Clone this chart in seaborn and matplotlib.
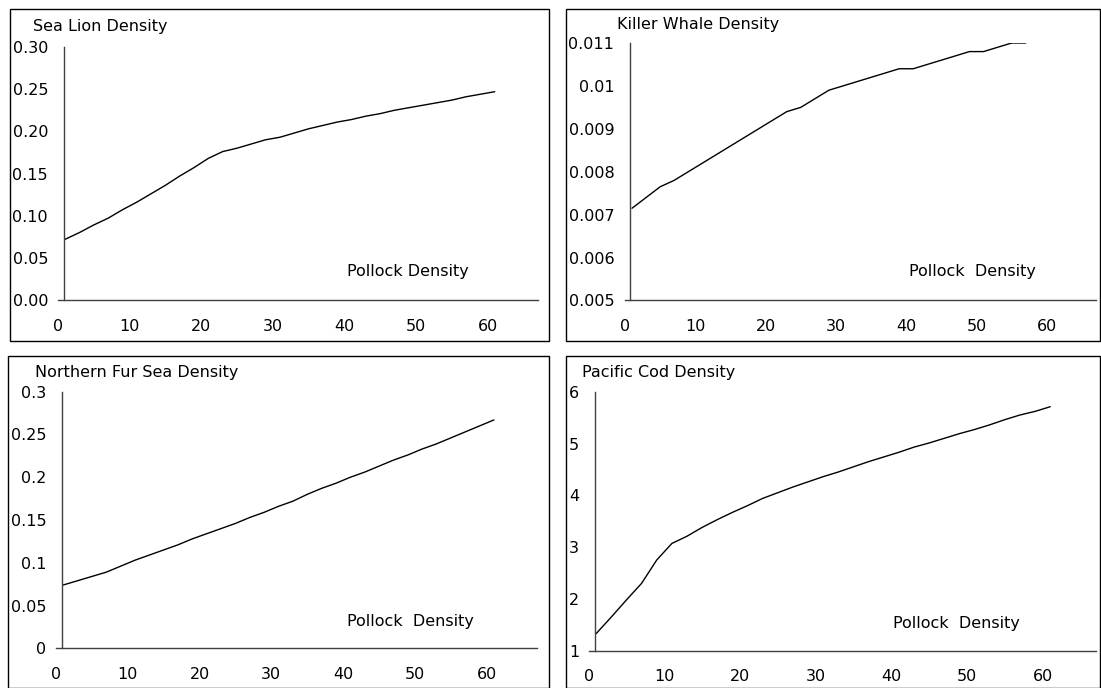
import matplotlib
matplotlib.use("Agg")
import matplotlib.pyplot as plt
import seaborn as sns
from matplotlib.patches import Rectangle
from matplotlib.ticker import FuncFormatter

# ---------------- data ----------------
pollock = [1, 3, 5, 7, 9, 11, 13, 15, 17, 19, 21, 23, 25, 27, 29, 31,
           33, 35, 37, 39, 41, 43, 45, 47, 49, 51, 53, 55, 57, 59, 61]

sea_lion = [0.072, 0.080, 0.089, 0.097, 0.107, 0.116, 0.126, 0.136, 0.147,
            0.157, 0.168, 0.176, 0.180, 0.185, 0.190, 0.193, 0.198, 0.203,
            0.207, 0.211, 0.214, 0.218, 0.221, 0.225, 0.228, 0.231, 0.234,
            0.237, 0.241, 0.244, 0.247]

killer_whale = [0.00715, 0.0074, 0.00765, 0.0078, 0.0080, 0.0082, 0.0084,
                0.0086, 0.0088, 0.0090, 0.0092, 0.0094, 0.0095, 0.0097,
                0.0099, 0.0100, 0.0101, 0.0102, 0.0103, 0.0104, 0.0104,
                0.0105, 0.0106, 0.0107, 0.0108, 0.0108, 0.0109, 0.0110,
                0.0110]

fur_seal = [0.074, 0.079, 0.084, 0.089, 0.096, 0.103, 0.109, 0.115, 0.121,
            0.128, 0.134, 0.140, 0.146, 0.153, 0.159, 0.166, 0.172, 0.180,
            0.187, 0.193, 0.200, 0.206, 0.213, 0.220, 0.226, 0.233, 0.239,
            0.246, 0.253, 0.260, 0.267]

pacific_cod = [1.33, 1.65, 1.98, 2.30, 2.75, 3.07, 3.21, 3.38, 3.53, 3.67,
               3.80, 3.94, 4.05, 4.16, 4.26, 4.36, 4.45, 4.55, 4.65, 4.74,
               4.83, 4.93, 5.01, 5.10, 5.19, 5.27, 5.36, 5.46, 5.55, 5.62,
               5.71]

x_ticks = [0, 10, 20, 30, 40, 50, 60]
titles = ["Sea Lion Density", "Killer Whale Density",
          "Northern Fur Sea Density", "Pacific Cod Density"]
x_labels = ["Pollock Density", "Pollock  Density",
            "Pollock  Density", "Pollock  Density"]

# ---------------- style ----------------
sns.set_style("white")
plt.rcParams["font.family"] = ["DejaVu Sans"]
FS = 11.5
AXC = "#404040"

W, H = 1101, 688
fig = plt.figure(figsize=(W / 100, H / 100), dpi=100)
fig.patch.set_facecolor("white")

panels = [
    dict(y=sea_lion, ylim=(0, 0.30), yt=[0, 0.05, 0.10, 0.15, 0.20, 0.25, 0.30],
         fmt=lambda v, p: f"{v:.2f}", box=(58, 537.7, 47, 300), spine=0.85,
         title_xy=(33, 30.7), lab_xy=(347, 276), frame=(9.5, 549, 9, 341)),
    dict(y=killer_whale, ylim=(0.005, 0.011),
         yt=[0.005, 0.006, 0.007, 0.008, 0.009, 0.010, 0.011],
         fmt=lambda v, p: f"{v:g}", box=(625, 1096, 43, 300.5), spine=0.75,
         title_xy=(617, 28.5), lab_xy=(909, 276), frame=(566, 1100, 9, 341)),
    dict(y=fur_seal, ylim=(0, 0.3), yt=[0, 0.05, 0.1, 0.15, 0.2, 0.25, 0.3],
         fmt=lambda v, p: f"{v:g}", box=(56, 537, 391.7, 648.3), spine=0.88,
         title_xy=(35, 377), lab_xy=(347, 626), frame=(8, 549, 356, 687.5)),
    dict(y=pacific_cod, ylim=(1, 6), yt=[1, 2, 3, 4, 5, 6],
         fmt=lambda v, p: f"{v:g}", box=(588.6, 1095.6, 391.7, 650.7), spine=0.85,
         title_xy=(582, 377), lab_xy=(893, 628), frame=(566, 1100, 356, 687.5)),
]

for i, pnl in enumerate(panels):
    fl, fr, ft, fb = pnl["frame"]
    fig.patches.append(Rectangle((fl / W, 1 - fb / H), (fr - fl) / W, (fb - ft) / H,
                                 transform=fig.transFigure, fill=False,
                                 edgecolor="black", linewidth=1.0, zorder=0))
    l, r, t, b = pnl["box"]
    ax = fig.add_axes([l / W, 1 - b / H, (r - l) / W, (b - t) / H])
    ax.patch.set_alpha(0)
    y = pnl["y"]
    sns.lineplot(x=pollock[:len(y)], y=y, ax=ax, color="black", linewidth=1.0)
    ax.set_xlim(0, 67)
    ax.set_ylim(*pnl["ylim"])
    ax.set_xticks(x_ticks)
    ax.set_yticks(pnl["yt"])
    ax.yaxis.set_major_formatter(FuncFormatter(pnl["fmt"]))
    ax.set_xlabel("")
    ax.set_ylabel("")
    for s in ["top", "right"]:
        ax.spines[s].set_visible(False)
    for s in ["left", "bottom"]:
        ax.spines[s].set_color(AXC)
        ax.spines[s].set_linewidth(1.0)
    ax.spines["left"].set_position(("data", pnl["spine"]))
    ax.tick_params(axis="both", direction="out", length=4.5, width=1.0,
                   color=AXC, labelsize=FS, labelcolor="black")
    ax.tick_params(axis="x", pad=9)
    ax.tick_params(axis="y", pad=7)
    ax.grid(False)
    tx, tyb = pnl["title_xy"]
    fig.text(tx / W, 1 - tyb / H, titles[i], ha="left", va="baseline",
             fontsize=FS, color="black")
    lx, lyb = pnl["lab_xy"]
    fig.text(lx / W, 1 - lyb / H, x_labels[i], ha="left", va="baseline",
             fontsize=FS, color="black")

fig.savefig("out.png", dpi=100, facecolor="white")
